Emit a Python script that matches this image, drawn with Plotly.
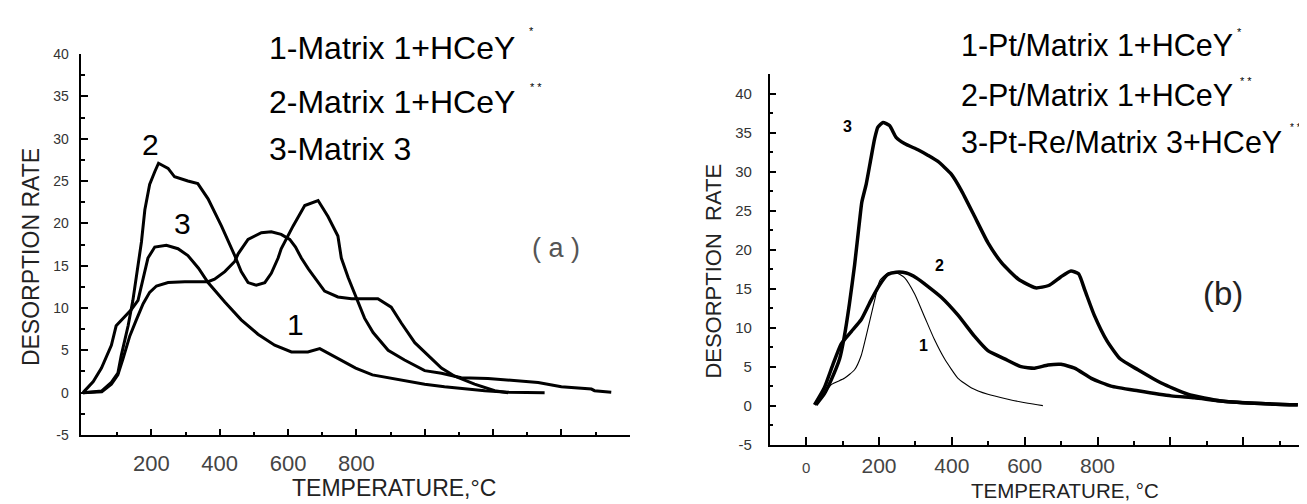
import plotly.graph_objects as go

W, H = 1307, 504

# ---------------- data: panel (a) ----------------
a1_x = [0, 30, 54, 83, 97, 117, 141, 161, 175, 190, 210, 244, 278, 307, 338, 366, 415, 463, 512, 561, 610, 658, 693, 746, 798, 847, 932, 1000, 1058, 1127, 1176, 1244, 1351]
a1_y = [0, 1.3, 2.9, 5.6, 7.9, 8.8, 9.8, 10.9, 13.4, 15.9, 17.2, 17.4, 17.0, 16.2, 14.7, 13.0, 10.7, 8.6, 6.9, 5.6, 4.8, 4.8, 5.2, 4.0, 2.9, 2.1, 1.45, 1.0, 0.7, 0.42, 0.23, 0.05, 0.0]

a2_x = [0, 55, 83, 102, 112, 132, 146, 156, 166, 171, 181, 195, 210, 221, 249, 268, 307, 336, 366, 405, 444, 463, 483, 507, 532, 551, 571, 580, 615, 649, 688, 717, 746, 756, 776, 800, 824, 849, 893, 941, 1000, 1049, 1107, 1185, 1253, 1332, 1400, 1488, 1497, 1546]
a2_y = [0, 0.2, 1.2, 2.3, 4.4, 7.9, 10.9, 13.6, 15.9, 17.8, 21.6, 24.6, 26.1, 27.1, 26.5, 25.5, 25.0, 24.7, 22.9, 19.7, 16.2, 14.3, 13.0, 12.7, 13.0, 14.1, 15.9, 17.0, 19.7, 22.1, 22.7, 20.8, 18.5, 15.9, 13.6, 11.1, 8.8, 7.1, 5.0, 3.85, 2.6, 2.3, 1.76, 1.68, 1.45, 1.19, 0.69, 0.42, 0.23, 0.05]

a3_x = [0, 55, 83, 102, 117, 137, 156, 176, 195, 215, 249, 298, 366, 385, 415, 444, 454, 483, 522, 551, 580, 605, 622, 639, 660, 678, 707, 746, 786, 863, 902, 932, 971, 1010, 1049, 1088, 1146, 1205, 1244]
a3_y = [0, 0.1, 1.0, 2.1, 4.0, 6.7, 8.6, 10.5, 11.85, 12.6, 13.0, 13.1, 13.1, 13.4, 14.3, 15.5, 16.4, 18.1, 18.9, 19.0, 18.7, 18.1, 17.2, 15.9, 14.6, 13.6, 12.0, 11.3, 11.1, 11.1, 10.1, 8.2, 5.9, 4.4, 2.9, 1.94, 1.0, 0.23, 0.0]

# ---------------- data: panel (b) ----------------
b1_x = [27, 45, 69, 105, 133, 151, 169, 188, 202, 224, 245, 270, 298, 325, 352, 380, 417, 453, 499, 554, 609, 650]
b1_y = [0.1, 1.2, 2.7, 3.5, 4.6, 6.4, 9.75, 13.5, 16.0, 17.0, 17.1, 16.4, 14.3, 11.4, 8.5, 6.0, 3.5, 2.3, 1.45, 0.83, 0.3, 0.0]

b2_x = [23, 50, 73, 96, 124, 151, 178, 202, 224, 247, 275, 302, 334, 371, 417, 462, 499, 545, 590, 627, 664, 700, 737, 783, 837, 911, 1002, 1066, 1139, 1231, 1350]
b2_y = [0.1, 2.3, 5.2, 7.9, 9.5, 11.0, 13.5, 15.5, 16.8, 17.1, 17.0, 16.4, 15.3, 13.9, 11.6, 8.9, 7.05, 6.0, 5.0, 4.8, 5.2, 5.3, 4.8, 3.5, 2.5, 1.9, 1.25, 1.0, 0.6, 0.3, 0.1]

b3_x = [27, 50, 69, 92, 105, 119, 133, 147, 153, 165, 178, 188, 197, 211, 229, 247, 270, 307, 334, 362, 398, 426, 462, 499, 537, 583, 630, 666, 699, 727, 748, 766, 791, 826, 862, 911, 975, 1048, 1139, 1231, 1350]
b3_y = [0.1, 1.5, 3.3, 6.0, 8.9, 13.1, 18.0, 23.8, 26.1, 28.4, 31.7, 34.2, 35.7, 36.3, 35.9, 34.4, 33.6, 32.8, 32.1, 31.3, 29.7, 27.6, 24.3, 20.9, 18.3, 16.2, 15.1, 15.4, 16.5, 17.25, 16.9, 14.7, 11.6, 8.3, 6.0, 4.6, 2.9, 1.46, 0.6, 0.3, 0.1]

# ticks
a_xticks = [200, 400, 600, 800]
a_xlabels = ["200", "400", "600", "800"]
a_xmajor_unlabeled = [1000, 1200, 1400, 1600]
a_xminor = [100, 300, 500, 700, 900, 1100, 1300, 1500]
b_xticks = [0, 200, 400, 600, 800]
b_xlabels = ['<span style="font-size:15px">0</span>', "200", "400", "600", "800"]
b_xmajor_unlabeled = [1000, 1200]
b_xminor = [100, 300, 500, 700, 900, 1100, 1300]
y_ticks = [-5, 0, 5, 10, 15, 20, 25, 30, 35, 40]
y_labels = ["-5", "0", "5", "10", "15", "20", "25", "30", "35", "40"]
a_yminor = [-2.5, 2.5, 7.5, 12.5, 17.5, 22.5, 27.5, 32.5, 37.5]
b_yminor = [-2.5, 2.5, 7.5, 12.5, 17.5, 22.5, 27.5, 32.5, 37.5, 42.5]

FONT = "Liberation Sans, Arial, sans-serif"

fig = go.Figure()
for xs, ys in [(a1_x, a1_y), (a2_x, a2_y), (a3_x, a3_y)]:
    fig.add_trace(go.Scatter(x=xs, y=ys, mode="lines", xaxis="x", yaxis="y",
                             line=dict(color="black", width=3), hoverinfo="skip"))
fig.add_trace(go.Scatter(x=b1_x, y=b1_y, mode="lines", xaxis="x2", yaxis="y2",
                         line=dict(color="black", width=1.1, shape="spline", smoothing=0.5)))
for xs, ys in [(b2_x, b2_y), (b3_x, b3_y)]:
    fig.add_trace(go.Scatter(x=xs, y=ys, mode="lines", xaxis="x2", yaxis="y2",
                             line=dict(color="black", width=3.5, shape="spline", smoothing=0.5)))
# invisible helpers so the overlay tick axes are drawn
fig.add_trace(go.Scatter(x=[a_xmajor_unlabeled[0]], y=[0], mode="markers", xaxis="x3", yaxis="y",
                         marker=dict(opacity=0), hoverinfo="skip"))
fig.add_trace(go.Scatter(x=[b_xmajor_unlabeled[0]], y=[0], mode="markers", xaxis="x4", yaxis="y2",
                         marker=dict(opacity=0), hoverinfo="skip"))


def px_dom(a, b, total):
    return [a / total, b / total]


axis_common = dict(showline=True, linecolor="black", linewidth=1.5, ticks="inside",
                   tickcolor="black", tickwidth=1.5, showgrid=False, zeroline=False)

a_dom = px_dom(73.3, 621.7, W)
b_dom = px_dom(761.7, 1304.4, W)

fig.update_layout(
    width=W, height=H, margin=dict(l=0, r=0, t=0, b=0),
    paper_bgcolor="white", plot_bgcolor="white", showlegend=False,
    font=dict(family=FONT, color="black"),
    xaxis=dict(axis_common, domain=a_dom, range=[-5, 1600], anchor="y",
               tickmode="array", tickvals=a_xticks, ticktext=a_xlabels, ticklen=6,
               tickfont=dict(size=22, color="#444"), ticklabelstandoff=8,
               minor=dict(tickmode="array", tickvals=a_xminor, ticks="inside", ticklen=3.5,
                          tickwidth=1.5, tickcolor="black")),
    xaxis3=dict(domain=a_dom, range=[-5, 1600], anchor="y", overlaying="x",
                showline=False, showgrid=False, zeroline=False, showticklabels=False,
                ticks="inside", ticklen=6, tickwidth=1.5, tickcolor="black",
                tickmode="array", tickvals=a_xmajor_unlabeled),
    yaxis=dict(axis_common, domain=[1 - 432.7 / H, 1 - 39.3 / H], range=[-5, 40], anchor="x",
               tickmode="array", tickvals=y_ticks, ticktext=y_labels, ticklen=6.5,
               tickfont=dict(size=14, color="#333"), ticklabelstandoff=8,
               minor=dict(tickmode="array", tickvals=a_yminor, ticks="inside", ticklen=4,
                          tickwidth=1.5, tickcolor="black")),
    xaxis2=dict(axis_common, domain=b_dom, range=[-100, 1390], anchor="y2",
                tickmode="array", tickvals=b_xticks, ticktext=b_xlabels, ticklen=7.5,
                tickfont=dict(size=21, color="#444"), ticklabelstandoff=1,
                minor=dict(tickmode="array", tickvals=b_xminor, ticks="inside", ticklen=3.5,
                           tickwidth=1.5, tickcolor="black")),
    xaxis4=dict(domain=b_dom, range=[-100, 1390], anchor="y2", overlaying="x2",
                showline=False, showgrid=False, zeroline=False, showticklabels=False,
                ticks="inside", ticklen=7.5, tickwidth=1.5, tickcolor="black",
                tickmode="array", tickvals=b_xmajor_unlabeled),
    yaxis2=dict(axis_common, domain=[1 - 442.7 / H, 1 - 60 / H], range=[-5, 42.5], anchor="x2",
                tickmode="array", tickvals=y_ticks, ticktext=y_labels, ticklen=7,
                tickfont=dict(size=15, color="#333"), ticklabelstandoff=13,
                minor=dict(tickmode="array", tickvals=b_yminor, ticks="inside", ticklen=4,
                           tickwidth=1.5, tickcolor="black")),
)


def ann(text, px, py, size, xanchor="center", yanchor="middle", color="black", angle=0, bold=False):
    if bold:
        text = "<b>" + text + "</b>"
    return dict(text=text, xref="paper", yref="paper", x=px / W, y=1 - py / H,
                xanchor=xanchor, yanchor=yanchor, showarrow=False, textangle=angle,
                font=dict(family=FONT, size=size, color=color))


anns = [
    # panel (a) key
    ann("1-Matrix 1+HCeY", 259, 33, 32, xanchor="left"),
    ann("2-Matrix 1+HCeY", 259, 89, 32, xanchor="left"),
    ann("3-Matrix 3", 259, 137.5, 32, xanchor="left"),
    ann("*", 523, 16, 11),
    ann("* *", 528, 73, 11),
    # panel (a) curve labels
    ann("2", 142.5, 132.5, 30),
    ann("3", 174.5, 214, 30),
    ann("1", 287.5, 319, 30),
    ann("( a )", 548, 240, 27, color="#555"),
    # panel (a) axis titles
    ann("TEMPERATURE,\u00b0C", 386, 503, 23, yanchor="bottom", color="#222"),
    ann("DESORPTION RATE", 22.5, 249.5, 23, angle=-90, color="#222"),
    # panel (b) key
    ann("1-Pt/Matrix 1+HCeY", 951, 30, 30.5, xanchor="left"),
    ann("2-Pt/Matrix 1+HCeY", 951, 82, 30.5, xanchor="left"),
    ann("3-Pt-Re/Matrix 3+HCeY", 951, 130, 30.5, xanchor="left"),
    ann("*", 1231, 17, 11),
    ann("* *", 1238, 67, 11),
    ann("* * *", 1280, 115, 10, xanchor="left"),
    # panel (b) curve labels
    ann("3", 839, 114, 16, bold=True),
    ann("2", 931.5, 257.5, 16, bold=True),
    ann("1", 915.5, 340, 16, bold=True),
    ann("(b)", 1215, 287, 33, color="#222"),
    # panel (b) axis titles
    ann("TEMPERATURE, \u00b0C", 1056.7, 504, 20.5, yanchor="bottom", color="#222"),
    ann("DESORPTION\u00a0 RATE", 706, 264, 22, angle=-90, color="#222"),
]
fig.update_layout(annotations=anns)

fig.write_html("out.html")
